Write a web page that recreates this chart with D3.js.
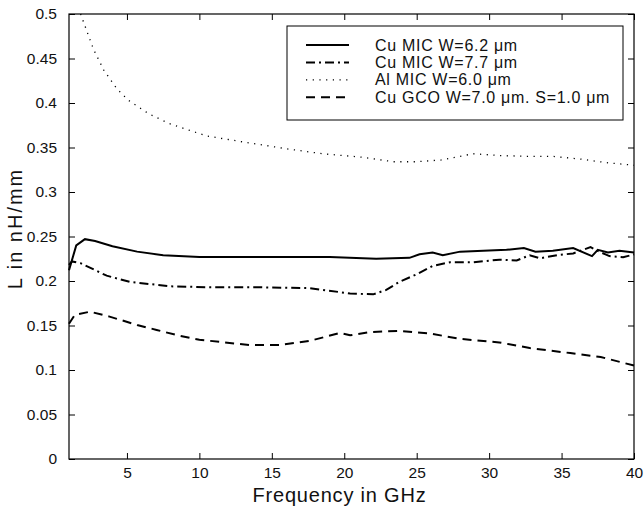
<!DOCTYPE html>
<html>
<head>
<meta charset="utf-8">
<script src="https://cdn.jsdelivr.net/npm/d3@7"></script>
<style>
  body { margin: 0; background: #fff; }
  svg { font-family: "Liberation Sans", Arial, sans-serif; }
</style>
</head>
<body>
<div id="chart"></div>
<script>
// values (frequency in GHz, inductance in nH/mm)
const cuMic62 = [
  [1.0, 0.212], [1.5, 0.240], [2.1, 0.247], [2.8, 0.245], [4.0, 0.239], [5.7, 0.233],
  [7.5, 0.229], [10, 0.227], [14, 0.227], [19, 0.227], [22.2, 0.225], [24.5, 0.226],
  [25.2, 0.230], [26.1, 0.232], [26.8, 0.229], [28, 0.233], [31.2, 0.235], [32.4, 0.237],
  [33.2, 0.233], [34.4, 0.234], [35.8, 0.237], [37.1, 0.228], [37.5, 0.235], [38.2, 0.232],
  [39, 0.234], [40, 0.232]
];
const cuMic77 = [
  [1.0, 0.218], [1.2, 0.222], [1.8, 0.220], [3.6, 0.206], [5.2, 0.199], [8, 0.194],
  [10.7, 0.193], [14, 0.193], [17.6, 0.192], [20.4, 0.186], [22, 0.185], [22.9, 0.190],
  [23.8, 0.199], [25, 0.2075], [26.1, 0.217], [27.3, 0.221], [28.9, 0.221], [30.7, 0.224],
  [31.9, 0.223], [32.8, 0.229], [33.5, 0.2255], [34.7, 0.229], [35.8, 0.231], [37, 0.238],
  [37.6, 0.233], [38.3, 0.228], [39.25, 0.2266], [40, 0.230]
];
const alMic60 = [
  [1.8, 0.500], [2.7, 0.460], [3.4, 0.437], [4.3, 0.416], [5.1, 0.403], [6.5, 0.388],
  [7.9, 0.377], [9, 0.371], [10.5, 0.363], [12, 0.359], [13.5, 0.355], [16.25, 0.348],
  [18.5, 0.343], [21.3, 0.339], [23.4, 0.334], [25, 0.334], [26.7, 0.336], [28.9, 0.343],
  [30.7, 0.341], [32.6, 0.340], [34.4, 0.340], [36.3, 0.337], [38.1, 0.333], [40, 0.330]
];
const cuGco = [
  [1.0, 0.152], [1.4, 0.162], [2.45, 0.1655], [3.8, 0.160], [5.7, 0.1506], [7.05, 0.145],
  [8.5, 0.139], [10, 0.134], [13.5, 0.128], [15.5, 0.128], [17.6, 0.1326], [19.7, 0.1416],
  [20.4, 0.139], [21.8, 0.1427], [23.8, 0.144], [25.9, 0.141], [28, 0.135], [30.7, 0.131],
  [32.8, 0.1247], [35.6, 0.119], [37.7, 0.1146], [40, 0.105]
];

const seriesNames = ["Cu MIC W=6.2 \u03bcm", "Cu MIC W=7.7 \u03bcm", "Al MIC W=6.0 \u03bcm", "Cu GCO W=7.0 \u03bcm. S=1.0 \u03bcm"];
const xTicks = [5, 10, 15, 20, 25, 30, 35, 40];
const yTicks = [0, 0.05, 0.1, 0.15, 0.2, 0.25, 0.3, 0.35, 0.4, 0.45, 0.5];

const series = [
  { name: seriesNames[0], values: cuMic62, dash: null, width: 2 },
  { name: seriesNames[1], values: cuMic77, dash: "9,4,2,4", width: 2 },
  { name: seriesNames[2], values: alMic60, dash: "1.2,5.5", width: 1.3 },
  { name: seriesNames[3], values: cuGco, dash: "9,6", width: 2 }
];

const margin = { top: 14, right: 10, bottom: 47, left: 69 };
const width = 644 - margin.left - margin.right;
const height = 506 - margin.top - margin.bottom;

const svg = d3.select("#chart").append("svg")
  .attr("width", 644)
  .attr("height", 506)
  .append("g")
  .attr("transform", `translate(${margin.left},${margin.top})`);

const x = d3.scaleLinear().domain([1, 40]).range([0, width]);
const y = d3.scaleLinear().domain([0, 0.5]).range([height, 0]);

// box
svg.append("rect")
  .attr("width", width)
  .attr("height", height)
  .attr("fill", "none")
  .attr("stroke", "#000")
  .attr("stroke-width", 1.2);

const fmt = d => d === 0 ? "0" : String(+d.toFixed(2));

svg.append("g")
  .attr("class", "y axis")
  .call(d3.axisLeft(y).tickValues(yTicks).tickFormat(fmt).tickSizeInner(-6).tickSizeOuter(0).tickPadding(12))
  .call(g => g.select(".domain").remove());

svg.append("g")
  .attr("class", "y axis right")
  .attr("transform", `translate(${width},0)`)
  .call(d3.axisRight(y).tickValues(yTicks).tickFormat("").tickSizeInner(-6).tickSizeOuter(0))
  .call(g => g.select(".domain").remove());

svg.append("g")
  .attr("class", "x axis")
  .attr("transform", `translate(0,${height})`)
  .call(d3.axisBottom(x).tickValues(xTicks).tickSizeInner(-6).tickSizeOuter(0).tickPadding(10))
  .call(g => g.select(".domain").remove());

svg.append("g")
  .attr("class", "x axis top")
  .call(d3.axisTop(x).tickValues(xTicks).tickFormat("").tickSizeInner(-6).tickSizeOuter(0))
  .call(g => g.select(".domain").remove());

svg.selectAll(".axis text")
  .attr("font-size", 15.5)
  .attr("font-family", "Liberation Sans, Arial, sans-serif")
  .attr("fill", "#111");
svg.selectAll(".axis line").attr("stroke", "#000");

svg.selectAll(".x.axis text").attr("dy", "0.6em");

const line = d3.line()
  .x(d => x(d[0]))
  .y(d => y(d[1]));

svg.selectAll(".series")
  .data(series)
  .enter().append("path")
  .attr("class", "series")
  .attr("d", d => line(d.values))
  .attr("fill", "none")
  .attr("stroke", "#000")
  .attr("stroke-width", d => d.width)
  .attr("stroke-dasharray", d => d.dash);

// legend
const legend = svg.append("g")
  .attr("transform", `translate(${287 - margin.left},${26 - margin.top})`);

legend.append("rect")
  .attr("width", 336)
  .attr("height", 94)
  .attr("fill", "#fff")
  .attr("stroke", "#000")
  .attr("stroke-width", 1);

const item = legend.selectAll(".legend")
  .data(series)
  .enter().append("g")
  .attr("class", "legend")
  .attr("transform", (d, i) => `translate(0,${19 + i * 17.4})`);

item.append("line")
  .attr("x1", 19)
  .attr("x2", 62)
  .attr("stroke", "#000")
  .attr("stroke-width", d => d.width)
  .attr("stroke-dasharray", d => d.dash);

item.append("text")
  .attr("x", 88)
  .attr("dy", "0.35em")
  .attr("font-size", 16)
  .attr("letter-spacing", 0.7)
  .attr("fill", "#111")
  .text(d => d.name);

// axis titles
svg.append("text")
  .attr("x", width / 2 - 12)
  .attr("y", height + 43)
  .attr("text-anchor", "middle")
  .attr("font-size", 20)
  .attr("letter-spacing", 0.8)
  .attr("fill", "#111")
  .text("Frequency in GHz");

svg.append("text")
  .attr("transform", `translate(${-47},${height / 2 - 8}) rotate(-90)`)
  .attr("text-anchor", "middle")
  .attr("font-size", 20)
  .attr("letter-spacing", 2)
  .attr("fill", "#111")
  .text("L in nH/mm");
</script>
</body>
</html>
